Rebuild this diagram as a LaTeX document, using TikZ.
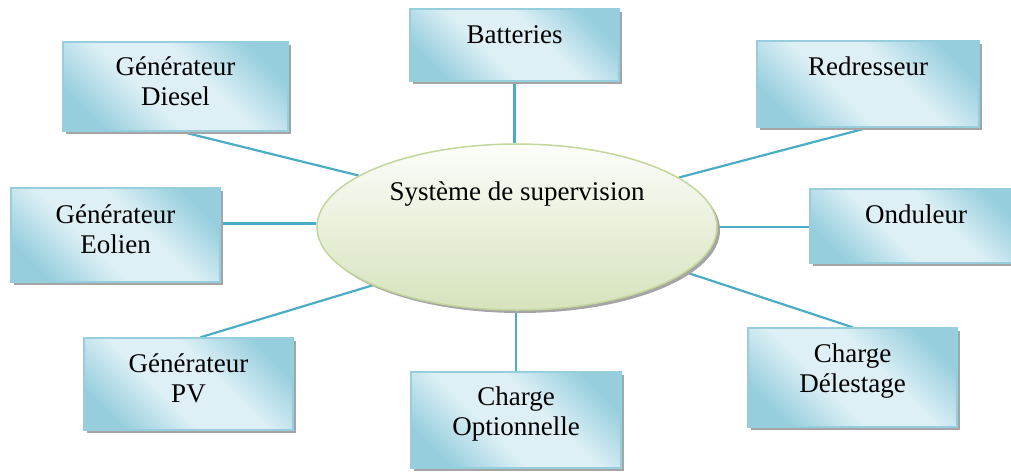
\documentclass[tikz,border=0pt]{standalone}
\usepackage{fontspec}
\setmainfont{Liberation Serif}
\usetikzlibrary{shadows,shapes.geometric,backgrounds}
\definecolor{bdark}{RGB}{150,206,221}
\definecolor{blight}{RGB}{222,240,246}
\definecolor{bborder}{RGB}{150,206,222}
\definecolor{linkc}{RGB}{75,172,198}
\definecolor{etop}{RGB}{252,253,250}
\definecolor{ebot}{RGB}{214,227,188}
\definecolor{eborder}{RGB}{195,214,155}
\definecolor{shadc}{RGB}{165,165,165}
\pgfdeclarehorizontalshading{boxshade}{100bp}{color(0bp)=(bdark); color(24bp)=(bdark); color(42bp)=(blight); color(58bp)=(blight); color(76bp)=(bdark); color(100bp)=(bdark)}
\tikzset{
  box/.style={rectangle, draw=bborder, line width=1.5pt, shading=boxshade, shading angle=45,
    inner sep=0pt, drop shadow={shadow xshift=3pt, shadow yshift=-3pt, fill=shadc, opacity=1}},
  ell/.style={ellipse, draw=eborder, line width=1.5pt, top color=etop, bottom color=ebot,
    inner sep=0pt, drop shadow={shadow xshift=3pt, shadow yshift=-3pt, fill=shadc, opacity=1}},
  lbl/.style={font=\fontsize{27}{30}\selectfont, inner sep=0pt, anchor=base},
  link/.style={draw=linkc, line width=2.2pt}
}
\newcommand{\twolines}[2]{\begin{tabular}[t]{@{}c@{}}#1\\#2\end{tabular}}
\begin{document}
\begin{tikzpicture}[x=1pt,y=-1pt]
\useasboundingbox (0,0) rectangle (1011,472);
% boxes
\node[box, minimum width=209pt, minimum height=72pt] (bat) at (514.5,45) {};
\node[box, minimum width=225pt, minimum height=89pt] (die) at (175.5,86.5) {};
\node[box, minimum width=222pt, minimum height=86pt] (red) at (868,84) {};
\node[box, minimum width=209pt, minimum height=94pt] (eol) at (115.5,235) {};
\node[box, minimum width=212pt, minimum height=74pt] (ond) at (916,226) {};
\node[box, minimum width=209pt, minimum height=92pt] (pv) at (188.5,384) {};
\node[box, minimum width=210pt, minimum height=96pt] (opt) at (516,420) {};
\node[box, minimum width=209pt, minimum height=99pt] (del) at (852.5,377.5) {};
% central ellipse
\node[ell, minimum width=400pt, minimum height=166pt] (sys) at (517,227) {};
% labels
\node[lbl] (batl) at (514.5,43) {Batteries};
\node[lbl] (diel) at (175.5,75) {\twolines{Générateur}{Diesel}};
\node[lbl] (redl) at (868,75) {Redresseur};
\node[lbl] (eoll) at (115.5,223) {\twolines{Générateur}{Eolien}};
\node[lbl] (ondl) at (916,223) {Onduleur};
\node[lbl] (pvl) at (188.5,372) {\twolines{Générateur}{PV}};
\node[lbl] (optl) at (516,405) {\twolines{Charge}{Optionnelle}};
\node[lbl] (dell) at (852.5,362) {\twolines{Charge}{Délestage}};
\node[lbl] (sysl) at (517,200) {Système de supervision};
% connectors
\begin{scope}[on background layer]
\draw[link] (bat.south) -- (bat.south |- sys.north);
\draw[link] (sys.162) -- ([xshift=6pt]die.south);
\draw[link] (sys.17) -- (red.south);
\draw[link] (sys.179) -- (sys.179 -| eol.east);
\draw[link] (sys.east) -- (sys.east -| ond.west);
\draw[link] (sys.202) -- ([xshift=12pt]pv.north);
\draw[link] (opt.north |- sys.south) -- (opt.north);
\draw[link] (sys.-15) -- (del.north);
\end{scope}
\end{tikzpicture}
\end{document}
